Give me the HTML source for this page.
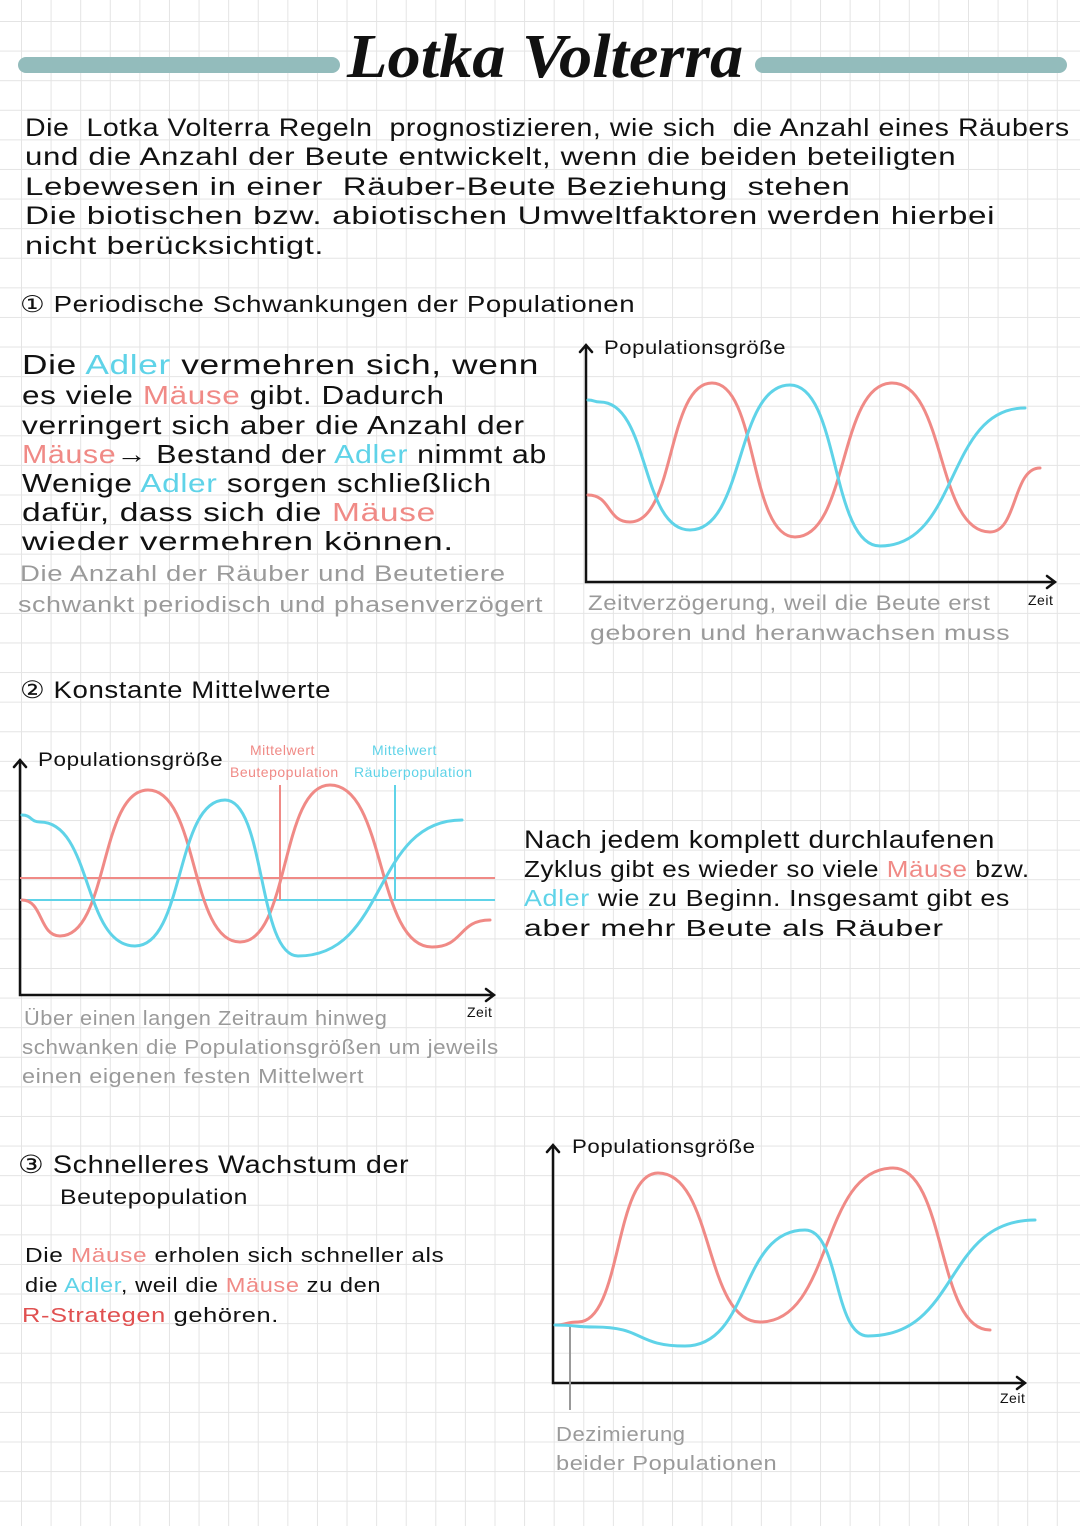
<!DOCTYPE html>
<html><head><meta charset="utf-8"><style>
html,body{margin:0;padding:0}
body{width:1080px;height:1526px;position:relative;overflow:hidden;background-color:#fff;
background-image:linear-gradient(#e4e4e4 1px,transparent 1px),linear-gradient(90deg,#e4e4e4 1px,transparent 1px);
background-size:29.6px 29.6px;background-position:21px 21px;font-family:"Liberation Sans",sans-serif;color:#111}
.t{position:absolute;white-space:nowrap;font-size:25px;letter-spacing:0.5px;transform-origin:0 50%}
.b{color:#5fd3e8}.r{color:#f08a86}.g{color:#9a9a9a}
.bar{position:absolute;height:16px;border-radius:8px;background:#93bcbc}
svg{position:absolute;left:0;top:0}
</style></head><body>
<div class="bar" style="left:18px;top:57px;width:322px"></div>
<div class="bar" style="left:755px;top:57px;width:312px"></div>
<div class="t" style="left:347px;top:22px;font-family:'Liberation Serif',serif;font-style:italic;font-weight:bold;font-size:62px;letter-spacing:0;transform:scaleX(1.07)">Lotka Volterra</div>

<div class="t" style="left:25px;top:114px;transform:scaleX(1.14)">Die &nbsp;Lotka Volterra Regeln &nbsp;prognostizieren, wie sich &nbsp;die Anzahl eines Räubers</div>
<div class="t" style="left:25px;top:143px;transform:scaleX(1.25)">und die Anzahl der Beute entwickelt, wenn die beiden beteiligten</div>
<div class="t" style="left:25px;top:173px;transform:scaleX(1.32)">Lebewesen in einer &nbsp;Räuber-Beute Beziehung &nbsp;stehen</div>
<div class="t" style="left:25px;top:202px;transform:scaleX(1.33)">Die biotischen bzw. abiotischen Umweltfaktoren werden hierbei</div>
<div class="t" style="left:25px;top:232px;transform:scaleX(1.3)">nicht berücksichtigt.</div>

<div class="t" style="left:20px;top:291px;font-size:23px;transform:scaleX(1.2)">① Periodische Schwankungen der Populationen</div>
<div class="t" style="left:22px;top:349px;font-size:28px;transform:scaleX(1.26)">Die <span class="b">Adler</span> vermehren sich, wenn</div>
<div class="t" style="left:22px;top:380px;font-size:26px;transform:scaleX(1.21)">es viele <span class="r">Mäuse</span> gibt. Dadurch</div>
<div class="t" style="left:22px;top:410px;font-size:26px;transform:scaleX(1.22)">verringert sich aber die Anzahl der</div>
<div class="t" style="left:22px;top:439px;font-size:26px;transform:scaleX(1.17)"><span class="r">Mäuse</span>→ Bestand der <span class="b">Adler</span> nimmt ab</div>
<div class="t" style="left:22px;top:468px;font-size:26px;transform:scaleX(1.22)">Wenige <span class="b">Adler</span> sorgen schließlich</div>
<div class="t" style="left:22px;top:497px;font-size:26px;transform:scaleX(1.29)">dafür, dass sich die <span class="r">Mäuse</span></div>
<div class="t" style="left:22px;top:526px;font-size:26px;transform:scaleX(1.35)">wieder vermehren können.</div>
<div class="t g" style="left:20px;top:561px;font-size:22px;transform:scaleX(1.25)">Die Anzahl der Räuber und Beutetiere</div>
<div class="t g" style="left:18px;top:592px;font-size:22px;transform:scaleX(1.22)">schwankt periodisch und phasenverzögert</div>

<div class="t" style="left:604px;top:338px;font-size:19px;transform:scaleX(1.16)">Populationsgröße</div>
<div class="t g" style="left:588px;top:592px;font-size:21px;transform:scaleX(1.14)">Zeitverzögerung, weil die Beute erst</div>
<div class="t g" style="left:590px;top:622px;font-size:21px;transform:scaleX(1.27)">geboren und heranwachsen muss</div>
<div class="t" style="left:1028px;top:592px;font-size:14px">Zeit</div>

<div class="t" style="left:20px;top:676px;font-size:24px;transform:scaleX(1.15)">② Konstante Mittelwerte</div>
<div class="t" style="left:38px;top:750px;font-size:19px;transform:scaleX(1.18)">Populationsgröße</div>
<div class="t r" style="left:250px;top:742px;font-size:14px">Mittelwert</div>
<div class="t r" style="left:230px;top:764px;font-size:14px">Beutepopulation</div>
<div class="t b" style="left:372px;top:742px;font-size:14px">Mittelwert</div>
<div class="t b" style="left:354px;top:764px;font-size:14px">Räuberpopulation</div>
<div class="t" style="left:467px;top:1004px;font-size:14px">Zeit</div>
<div class="t g" style="left:24px;top:1008px;font-size:20px;transform:scaleX(1.09)">Über einen langen Zeitraum hinweg</div>
<div class="t g" style="left:22px;top:1037px;font-size:20px;transform:scaleX(1.12)">schwanken die Populationsgrößen um jeweils</div>
<div class="t g" style="left:22px;top:1066px;font-size:20px;transform:scaleX(1.17)">einen eigenen festen Mittelwert</div>

<div class="t" style="left:524px;top:826px;font-size:25px;transform:scaleX(1.13)">Nach jedem komplett durchlaufenen</div>
<div class="t" style="left:524px;top:856px;font-size:23px;transform:scaleX(1.13)">Zyklus gibt es wieder so viele <span class="r">Mäuse</span> bzw.</div>
<div class="t" style="left:524px;top:885px;font-size:23px;transform:scaleX(1.17)"><span class="b">Adler</span> wie zu Beginn. Insgesamt gibt es</div>
<div class="t" style="left:524px;top:915px;font-size:23px;transform:scaleX(1.39)">aber mehr Beute als Räuber</div>

<div class="t" style="left:18px;top:1150px;font-size:25px;transform:scaleX(1.15)">③ Schnelleres Wachstum der</div>
<div class="t" style="left:60px;top:1186px;font-size:21px;transform:scaleX(1.18)">Beutepopulation</div>
<div class="t" style="left:25px;top:1245px;font-size:20px;transform:scaleX(1.22)">Die <span class="r">Mäuse</span> erholen sich schneller als</div>
<div class="t" style="left:25px;top:1275px;font-size:20px;transform:scaleX(1.18)">die <span class="b">Adler</span>, weil die <span class="r">Mäuse</span> zu den</div>
<div class="t" style="left:22px;top:1305px;font-size:20px;transform:scaleX(1.27)"><span style="color:#e05050">R-Strategen</span> gehören.</div>

<div class="t" style="left:572px;top:1137px;font-size:19px;transform:scaleX(1.17)">Populationsgröße</div>
<div class="t" style="left:1000px;top:1390px;font-size:14px">Zeit</div>
<div class="t g" style="left:556px;top:1424px;font-size:20px;transform:scaleX(1.1)">Dezimierung</div>
<div class="t g" style="left:556px;top:1453px;font-size:20px;transform:scaleX(1.18)">beider Populationen</div>

<svg width="1080" height="1526" id="sv">
<g stroke="#111" stroke-width="2.5" fill="none" stroke-linecap="round">
<path d="M586,345 V582 H1055 M1047,576 L1055,582 L1047,588 M580,352 L586,345 L592,352"/>
<path d="M20,760 V995 H494 M486,989 L494,995 L486,1001 M14,767 L20,760 L26,767"/>
<path d="M553,1145 V1383 H1025 M1017,1377 L1025,1383 L1017,1389 M547,1152 L553,1145 L559,1152"/>
</g>
<g stroke-width="2" fill="none">
<path d="M20,878 H495" stroke="#f08a86"/>
<path d="M20,900 H495" stroke="#5fd3e8"/>
<path d="M280,785 V900" stroke="#f08a86"/>
<path d="M395,785 V900" stroke="#5fd3e8"/>
<path d="M570,1325 V1410" stroke="#999"/>
</g>
</svg>
<script>
function mk(pts,col){var d="M"+pts[0][0]+","+pts[0][1];for(var i=1;i<pts.length;i++){var a=pts[i-1],b=pts[i],dx=b[0]-a[0];d+=" C"+(a[0]+dx*0.55)+","+a[1]+" "+(b[0]-dx*0.55)+","+b[1]+" "+b[0]+","+b[1];}
var p=document.createElementNS("http://www.w3.org/2000/svg","path");p.setAttribute("d",d);p.setAttribute("stroke",col);p.setAttribute("stroke-width","3");p.setAttribute("fill","none");p.setAttribute("stroke-linecap","round");document.getElementById("sv").appendChild(p);}
var R="#f08a86",B="#5fd3e8";
mk([[588,495],[630,522],[712,383],[795,537],[892,383],[990,532],[1040,468]],R);
mk([[588,400],[600,402],[690,530],[790,385],[880,546],[1025,408]],B);
mk([[22,900],[60,936],[148,790],[240,942],[330,785],[432,947],[490,920]],R);
mk([[22,815],[40,822],[135,946],[225,800],[298,956],[462,820]],B);
mk([[555,1325],[578,1322],[658,1173],[760,1322],[893,1168],[990,1330]],R);
mk([[555,1325],[595,1327],[685,1346],[805,1230],[868,1336],[1035,1220]],B);
</script>
</body></html>
